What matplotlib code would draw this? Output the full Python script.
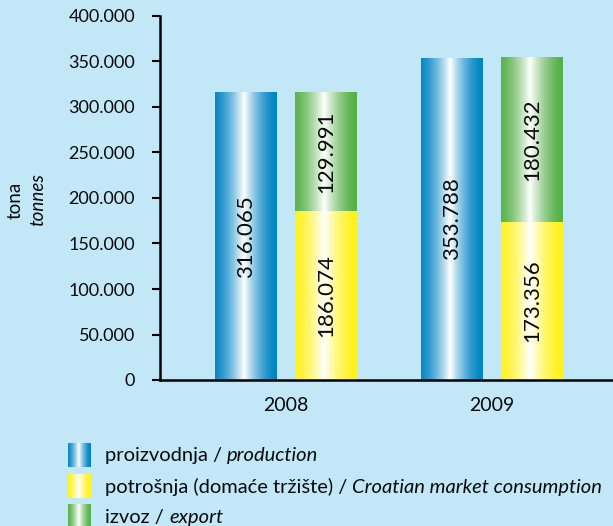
import numpy as np
import matplotlib
matplotlib.use("Agg")
import matplotlib.pyplot as plt
from matplotlib.colors import to_rgb

years = ["2008", "2009"]
production = [316065, 353788]
consumption = [186074, 173356]
export = [129991, 180432]
yticks = [0, 50000, 100000, 150000, 200000, 250000, 300000, 350000, 400000]
ytick_labels = ["0", "50.000", "100.000", "150.000", "200.000", "250.000", "300.000", "350.000", "400.000"]

BG = "#c2e7f7"
BLUE = "#0084c4"
YELLOW = "#fff21a"
GREEN = "#55b048"
FONT = ["Lato", "DejaVu Sans"]
plt.rcParams["font.family"] = FONT
TXT = "#0a0a0a"


def fmt(v):
    return f"{v:,}".replace(",", ".")


def grad_img(color, n=200):
    t = np.linspace(0, 1, n)
    f = np.clip(1 - np.abs(2 * (t - 0.47)) / 1.06, 0, 1) ** 1.6
    c = np.array(to_rgb(color))
    rgb = c[None, :] * (1 - f[:, None]) + np.ones(3)[None, :] * f[:, None]
    return rgb[None, :, :]


fig = plt.figure(figsize=(6.13, 5.26), dpi=100, facecolor=BG)
W, H = 613, 526
ax = fig.add_axes([160 / W, (H - 380) / H, (W - 160) / W, (380 - 16) / H])
ax.set_facecolor(BG)

x = np.arange(len(years))
bw = 0.30
off = 0.194


def gbar(xs, heights, bottoms, color):
    bars = ax.bar(xs, heights, bw, bottom=bottoms, color="none", edgecolor="none")
    for b in bars:
        x0, y0 = b.get_x(), b.get_y()
        ax.imshow(grad_img(color), extent=[x0, x0 + b.get_width(), y0, y0 + b.get_height()],
                  aspect="auto", interpolation="bilinear", zorder=2)
    return bars


gbar(x - off, production, 0, BLUE)
gbar(x + off, consumption, 0, YELLOW)
gbar(x + off, export, consumption, GREEN)

VS = 16
for i in range(len(years)):
    ax.text(x[i] - off, production[i] / 2, fmt(production[i]), rotation=90, ha="center", va="center",
            fontsize=VS, color=TXT, zorder=3)
    ax.text(x[i] + off, consumption[i] / 2, fmt(consumption[i]), rotation=90, ha="center", va="center",
            fontsize=VS, color=TXT, zorder=3)
    ax.text(x[i] + off, consumption[i] + export[i] / 2, fmt(export[i]), rotation=90, ha="center",
            va="center", fontsize=VS, color=TXT, zorder=3)

ax.set_xlim(-0.612, 1.587)
ax.set_ylim(0, 400000)
ax.set_yticks(yticks)
ax.set_yticklabels(ytick_labels, fontsize=13, color=TXT)
ax.set_xticks(x)
ax.set_xticklabels(years, fontsize=14, color=TXT)
ax.tick_params(axis="x", length=0, pad=12)
ax.tick_params(axis="y", length=6, width=1.5, pad=12, direction="out")
for s in ["top", "right"]:
    ax.spines[s].set_visible(False)
ax.spines["left"].set_linewidth(1.8)
ax.spines["bottom"].set_linewidth(1.8)

fig.text(15 / W, 1 - 200 / H, "tona", rotation=90, ha="center", va="center", fontsize=13.5, color=TXT)
fig.text(38 / W, 1 - 200 / H, "tonnes", rotation=90, ha="center", va="center", fontsize=13.5,
         style="italic", color=TXT)

legend_items = [
    (BLUE, "proizvodnja / ", "production"),
    (YELLOW, "potrošnja (domaće tržište) / ", "Croatian market consumption"),
    (GREEN, "izvoz / ", "export"),
]
LS = 14.5
ytops = [443, 474, 504]
for (col, normal, ital), yt in zip(legend_items, ytops):
    lax = fig.add_axes([68 / W, 1 - (yt + 24) / H, 23 / W, 24 / H])
    lax.imshow(grad_img(col), aspect="auto", extent=[0, 1, 0, 1], interpolation="bilinear")
    lax.set_axis_off()
    t = fig.text(105 / W, 1 - (yt + 13) / H, normal, ha="left", va="center", fontsize=LS, color=TXT)
    fig.canvas.draw()
    bb = t.get_window_extent()
    fig.text(bb.x1 / W, 1 - (yt + 13) / H, ital, ha="left", va="center", fontsize=LS,
             style="italic", color=TXT)

fig.savefig("out.png", dpi=100, facecolor=BG)
